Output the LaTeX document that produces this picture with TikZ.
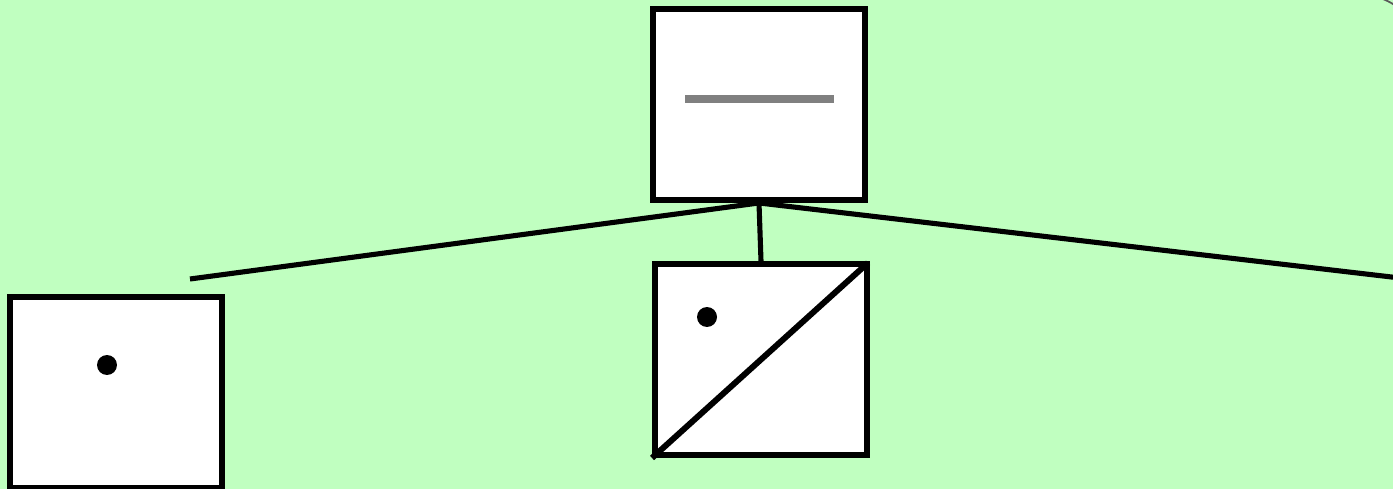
\documentclass[tikz,border=0pt]{standalone}
\usetikzlibrary{positioning}
\definecolor{bggreen}{RGB}{192,255,192}
\definecolor{bargray}{RGB}{128,128,128}
\begin{document}
\begin{tikzpicture}[x=0.02cm, y=-0.02cm]
            \tikzstyle{box}=[draw, fill=white, line width=3.4pt, inner sep=0pt,
                minimum width=4.24cm, minimum height=3.82cm]
            \tikzstyle{link}=[draw, line width=2.9pt]
            \tikzstyle{spot}=[circle, fill=black, inner sep=0pt, minimum size=0.4cm]
            % Background
            \useasboundingbox (0,0) rectangle (1393,489);
            \clip (0,0) rectangle (1393,489);
            \fill[bggreen] (0,0) rectangle (1393,489);
            \draw[bargray!70!black, line width=1pt] (1380,-2) .. controls (1386,0) and (1390,2) .. (1396,6);
            % Root node
            \node[box] (root) at (759,104.5) {};
            \draw[bargray, line width=4.5pt] (685,99) -- (834,99);
            % Level 1
            \node[box] (left) at (116,392.5) {};
            \node[spot] (leftdot) at (107,365) {};
            \node[box] (mid) at (761,359.5) {};
            \node[spot] (middot) at (707,317) {};
            \draw[line width=3.4pt, shorten >=1.5pt] (mid.south west) -- (mid.north east);
            % Edges
            \coordinate (leftend) at (190,279);
            \coordinate (rightend) at (1400,278);
            \draw[link] (root.south) -- (leftend);
            \draw[link] (root.south) -- (mid.north);
            \draw[link] (root.south) -- (rightend);
        \end{tikzpicture}
\end{document}
